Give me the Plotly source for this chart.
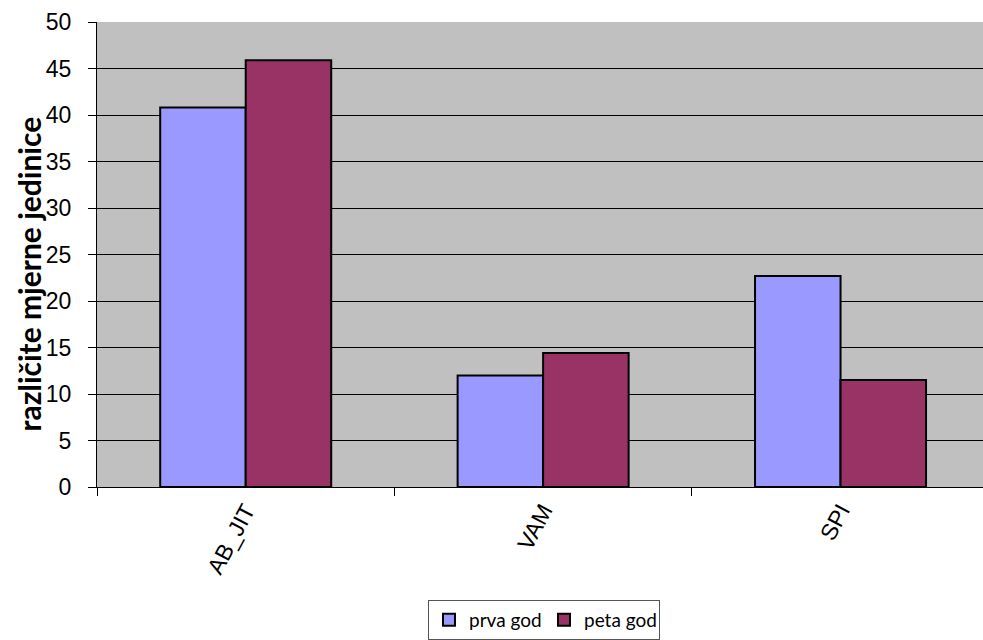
import plotly.graph_objects as go

categories = ["AB_JIT", "VAM", "SPI"]
prva_god = [40.8, 12.0, 22.7]
peta_god = [45.9, 14.4, 11.5]
series_names = ["prva god", "peta god"]
y_ticks = [0, 5, 10, 15, 20, 25, 30, 35, 40, 45, 50]
y_title = "različite mjerne jedinice"

fig = go.Figure()
fig.add_trace(go.Bar(x=categories, y=prva_god, name=series_names[0],
                     marker=dict(color="#9999FF", line=dict(color="black", width=2))))
fig.add_trace(go.Bar(x=categories, y=peta_god, name=series_names[1],
                     marker=dict(color="#993366", line=dict(color="black", width=2))))

fig.update_layout(
    width=983, height=640,
    margin=dict(l=97, r=0, t=22, b=152),
    paper_bgcolor="white", plot_bgcolor="#C0C0C0",
    barmode="group", bargap=0.425, bargroupgap=0,
    font=dict(family="Liberation Sans, Arial, sans-serif", color="black"),
    showlegend=True,
    legend=dict(orientation="h", x=0.5045, xanchor="center", y=-0.2425, yanchor="top",
                bgcolor="white", bordercolor="#555555", borderwidth=1,
                font=dict(family="Lato, sans-serif", size=19),
                itemwidth=30, tracegroupgap=0, entrywidth=70, entrywidthmode="pixels"),
    annotations=[dict(text="<b>" + y_title + "</b>", textangle=-90,
                      xref="paper", yref="paper", x=-0.0767, y=0.457,
                      xanchor="center", yanchor="middle", showarrow=False,
                      font=dict(family="Lato, sans-serif", size=30, color="black"))],
)
fig.update_xaxes(
    type="category", range=[-0.5, 2.479],
    showline=True, linecolor="black", linewidth=1,
    ticks="outside", tickson="boundaries", ticklen=8, tickcolor="black",
    tickangle=-62, tickfont=dict(size=23), showgrid=False,
)
fig.update_yaxes(
    range=[0, 50], tickvals=y_ticks,
    showline=True, linecolor="black", linewidth=1,
    ticks="outside", ticklen=8, tickcolor="black",
    tickfont=dict(size=23), ticklabelstandoff=12,
    showgrid=True, gridcolor="black", gridwidth=1, zeroline=False,
)

fig.write_html(
    "out.html",
    config={"displayModeBar": False},
    post_script="document.body.style.margin='0px';document.body.style.overflow='hidden';",
)
